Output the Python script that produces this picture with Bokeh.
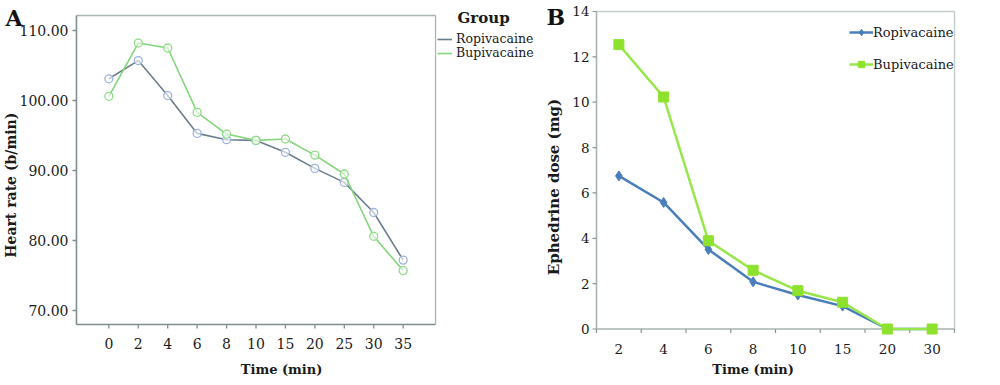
import math
from bokeh.plotting import figure
from bokeh.layouts import row
from bokeh.models import Range1d, Legend, LegendItem
from bokeh.core.properties import value
from bokeh.embed import file_html
from bokeh.resources import INLINE

# ---------------- data ----------------
time_a = ["0", "2", "4", "6", "8", "10", "15", "20", "25", "30", "35"]
hr_ropivacaine = [103.1, 105.7, 100.7, 95.3, 94.4, 94.3, 92.6, 90.3, 88.3, 84.0, 77.2]
hr_bupivacaine = [100.6, 108.2, 107.5, 98.3, 95.2, 94.3, 94.5, 92.2, 89.5, 80.6, 75.7]
yticks_a = [70, 80, 90, 100, 110]

time_b = ["2", "4", "6", "8", "10", "15", "20", "30"]
eph_ropivacaine = [6.75, 5.58, 3.51, 2.08, 1.50, 1.01, 0.0, 0.0]
eph_bupivacaine = [12.54, 10.23, 3.89, 2.59, 1.69, 1.18, 0.0, 0.0]
yticks_b = [0, 2, 4, 6, 8, 10, 12, 14]

SERIF = "DejaVu Serif"
TXT = "#1a1a1a"
H = 384

# =============== panel A ===============
AX0, AX1, AY0, AY1 = -1.1, len(time_a) + 0.1, 68.0, 112.14
PXA, PYA = 29.44, 7.0            # pixels per data unit
WA = 543
xa = list(range(len(time_a)))
pa = figure(width=WA, height=H, output_backend="svg", toolbar_location=None,
            x_range=Range1d(AX0 - 76 / PXA, AX1 + 108 / PXA),
            y_range=Range1d(AY0 - (H - 324) / PYA, AY1 + 15 / PYA),
            x_axis_location=None, y_axis_location=None, min_border=0)
pa.outline_line_color = None
pa.xgrid.visible = False
pa.ygrid.visible = False

pa.segment(x0=[AX0, AX1], y0=[AY1, AY0], x1=[AX1, AX1], y1=[AY1, AY1],
           line_color="#aab4b4", line_width=1.3)
pa.segment(x0=[AX0, AX0], y0=[AY0, AY0], x1=[AX0, AX1], y1=[AY1, AY0],
           line_color="#7f8d8d", line_width=1.6)
pa.segment(x0=xa, y0=[AY0] * len(xa), x1=xa, y1=[AY0 - 4 / PYA] * len(xa),
           line_color="#7f8d8d", line_width=1.3)
pa.segment(x0=[AX0] * len(yticks_a), y0=yticks_a, x1=[AX0 - 4 / PXA] * len(yticks_a), y1=yticks_a,
           line_color="#7f8d8d", line_width=1.3)
pa.text(x=xa, y=[AY0] * len(xa), text=time_a, text_font=value(SERIF),
        text_font_size=value("14px"), text_color=TXT, text_align="center",
        text_baseline="middle", y_offset=19)
pa.text(x=[AX0] * len(yticks_a), y=yticks_a, text=["%.2f" % v for v in yticks_a],
        text_font=value(SERIF), text_font_size=value("14px"), text_color=TXT,
        text_align="right", text_baseline="middle", x_offset=-8)
pa.text(x=[5.87], y=[AY0], text=["Time (min)"], text_font=value(SERIF),
        text_font_size=value("13px"), text_font_style="bold", text_color=TXT,
        text_align="center", text_baseline="middle", y_offset=45)
pa.text(x=[AX0], y=[87.9], text=["Heart rate (b/min)"], text_font=value(SERIF),
        text_font_size=value("14px"), text_font_style="bold", text_color=TXT,
        text_align="center", text_baseline="middle", x_offset=-65, angle=math.pi / 2)
pa.text(x=[AX0], y=[AY1], text=["A"], text_font=value(SERIF),
        text_font_size=value("22px"), text_font_style="bold", text_color="#111111",
        text_align="left", text_baseline="top", x_offset=-71, y_offset=-11)
pa.text(x=[AX1], y=[AY1], text=["Group"], text_font=value(SERIF),
        text_font_size=value("15px"), text_font_style="bold", text_color=TXT,
        text_align="left", text_baseline="middle", x_offset=22, y_offset=2)

la = pa.line(xa, hr_ropivacaine, line_color="#6c7e8e", line_width=1.6)
pa.scatter(xa, hr_ropivacaine, marker="circle", size=8, line_color="#9fb3dc",
           fill_color="white", fill_alpha=0.6, line_width=1.3)
lb = pa.line(xa, hr_bupivacaine, line_color="#83d67a", line_width=1.6)
pa.scatter(xa, hr_bupivacaine, marker="circle", size=8, line_color="#8fdc86",
           fill_color="white", fill_alpha=0.6, line_width=1.3)

for lab, rend, ly in (("Ropivacaine", la, H - 46), ("Bupivacaine", lb, H - 60)):
    pa.add_layout(Legend(items=[LegendItem(label=lab, renderers=[rend])],
                         location=(437, ly), margin=0, padding=2, spacing=0,
                         glyph_width=15, glyph_height=10, label_height=10, label_standoff=4,
                         label_text_font=SERIF, label_text_font_size="12.5px",
                         label_text_color=TXT, border_line_color=None,
                         background_fill_alpha=0))

# =============== panel B ===============
BX0, BX1, BY0, BY1 = -0.5, len(time_b) - 0.5, 0.0, 14.0
PXB, PYB = 44.75, 22.68
WB = 456
xb = list(range(len(time_b)))
pb = figure(width=WB, height=H, output_backend="svg", toolbar_location=None,
            x_range=Range1d(BX0 - 53 / PXB, BX1 + (WB - 411) / PXB),
            y_range=Range1d(BY0 - (H - 328.5) / PYB, BY1 + 11 / PYB),
            x_axis_location=None, y_axis_location=None, min_border=0)
pb.outline_line_color = None
pb.xgrid.visible = False
pb.ygrid.visible = False

pb.segment(x0=[BX0, BX1], y0=[BY1, BY0], x1=[BX1, BX1], y1=[BY1, BY1],
           line_color="#c6cdcd", line_width=1.5)
pb.segment(x0=[BX0, BX0], y0=[BY0, BY0], x1=[BX0, BX1], y1=[BY1, BY0],
           line_color="#aab3b3", line_width=1.6)
bticks = [i - 0.5 for i in range(len(time_b) + 1)]
pb.segment(x0=bticks, y0=[BY0] * len(bticks), x1=bticks, y1=[BY0 - 4 / PYB] * len(bticks),
           line_color="#8c9696", line_width=1.2)
pb.segment(x0=[BX0] * len(yticks_b), y0=yticks_b, x1=[BX0 - 4 / PXB] * len(yticks_b), y1=yticks_b,
           line_color="#8c9696", line_width=1.2)
pb.text(x=xb, y=[BY0] * len(xb), text=time_b, text_font=value(SERIF),
        text_font_size=value("13.5px"), text_color=TXT, text_align="center",
        text_baseline="middle", y_offset=20)
pb.text(x=[BX0] * len(yticks_b), y=yticks_b, text=[str(v) for v in yticks_b],
        text_font=value(SERIF), text_font_size=value("13.5px"), text_color=TXT,
        text_align="right", text_baseline="middle", x_offset=-7)
pb.text(x=[3.0], y=[BY0], text=["Time (min)"], text_font=value(SERIF),
        text_font_size=value("13px"), text_font_style="bold", text_color=TXT,
        text_align="center", text_baseline="middle", y_offset=40.5)
pb.text(x=[BX0], y=[6.26], text=["Ephedrine dose (mg)"], text_font=value(SERIF),
        text_font_size=value("15px"), text_font_style="bold", text_color=TXT,
        text_align="center", text_baseline="middle", x_offset=-43, angle=math.pi / 2)
pb.text(x=[BX0], y=[BY1], text=["B"], text_font=value(SERIF),
        text_font_size=value("22px"), text_font_style="bold", text_color="#111111",
        text_align="left", text_baseline="top", x_offset=-50, y_offset=-7)

r1 = pb.line(xb, eph_ropivacaine, line_color="#4a7ebb", line_width=2.5)
m1 = pb.scatter(xb, eph_ropivacaine, marker="diamond", size=10, color="#4a7ebb")
r2 = pb.line(xb, eph_bupivacaine, line_color="#97e64a", line_width=2.5)
m2 = pb.scatter(xb, eph_bupivacaine, marker="square", size=10, color="#8ee22e")

leg_b = Legend(items=[LegendItem(label="Ropivacaine", renderers=[r1, m1]),
                      LegendItem(label="Bupivacaine", renderers=[r2, m2])],
               location=(306, H - 72), margin=0, padding=2, spacing=16,
               glyph_width=24, glyph_height=16, label_height=16, label_standoff=0,
               label_text_font=SERIF, label_text_font_size="13px",
               label_text_color=TXT, border_line_color=None, background_fill_alpha=0)
pb.add_layout(leg_b)

layout = row(pa, pb, spacing=0)
open("out.html", "w").write(file_html(layout, INLINE))
